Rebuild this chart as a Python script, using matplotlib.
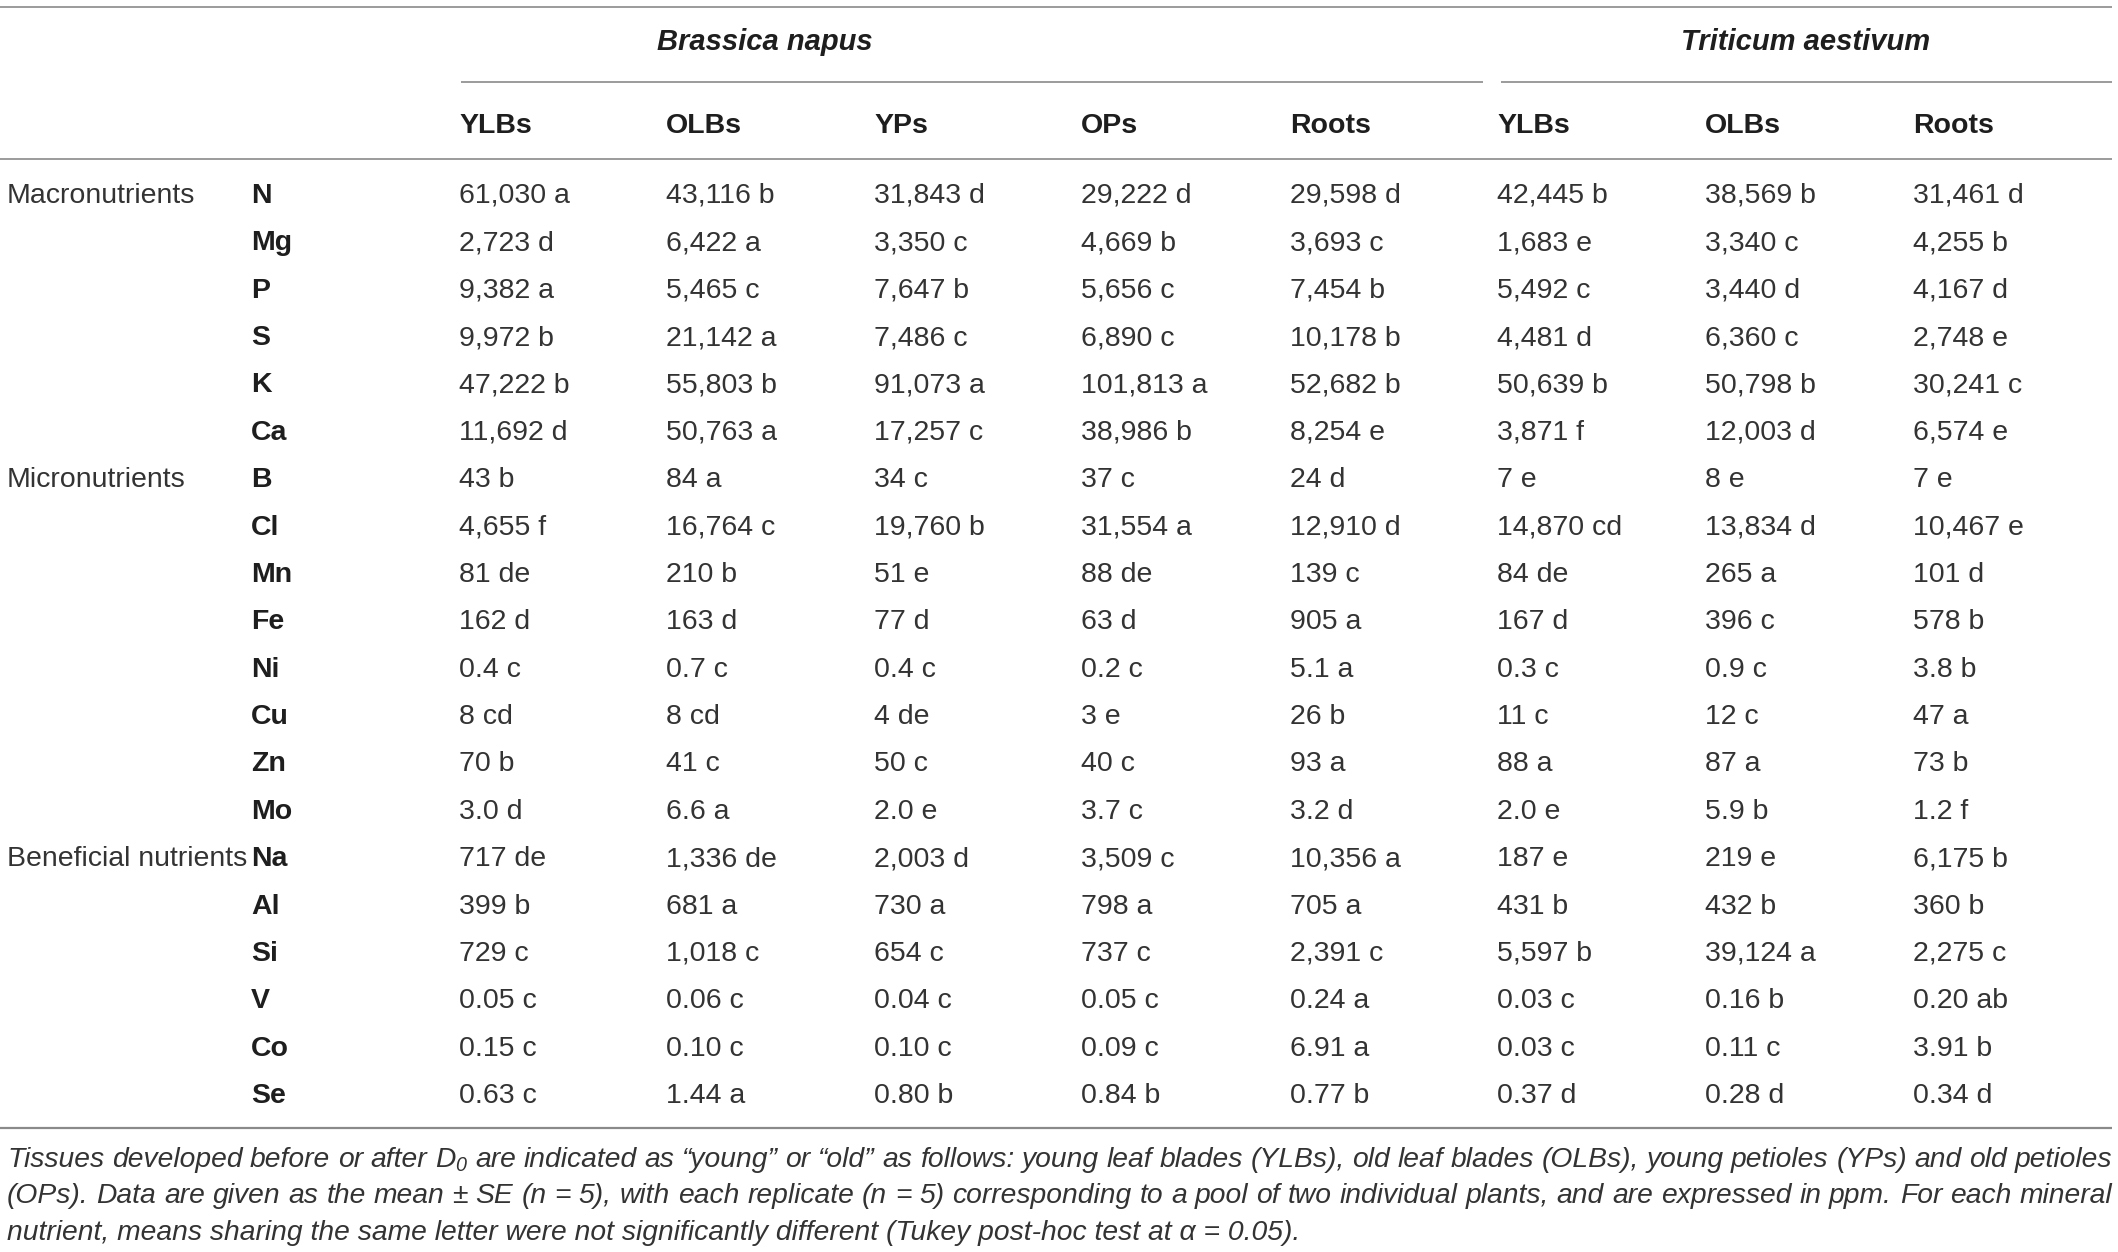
import matplotlib
matplotlib.use("Agg")
import matplotlib.pyplot as plt

# ---------------- data ----------------
species = ["Brassica napus", "Triticum aestivum"]
columns = ["YLBs", "OLBs", "YPs", "OPs", "Roots", "YLBs", "OLBs", "Roots"]
groups = ["Macronutrients", "Micronutrients", "Beneficial nutrients"]
group_start = [0, 6, 14]
elements = ["N", "Mg", "P", "S", "K", "Ca",
            "B", "Cl", "Mn", "Fe", "Ni", "Cu", "Zn", "Mo",
            "Na", "Al", "Si", "V", "Co", "Se"]

bn_ylbs = ["61,030 a", "2,723 d", "9,382 a", "9,972 b", "47,222 b", "11,692 d",
           "43 b", "4,655 f", "81 de", "162 d", "0.4 c", "8 cd", "70 b", "3.0 d",
           "717 de", "399 b", "729 c", "0.05 c", "0.15 c", "0.63 c"]
bn_olbs = ["43,116 b", "6,422 a", "5,465 c", "21,142 a", "55,803 b", "50,763 a",
           "84 a", "16,764 c", "210 b", "163 d", "0.7 c", "8 cd", "41 c", "6.6 a",
           "1,336 de", "681 a", "1,018 c", "0.06 c", "0.10 c", "1.44 a"]
bn_yps = ["31,843 d", "3,350 c", "7,647 b", "7,486 c", "91,073 a", "17,257 c",
          "34 c", "19,760 b", "51 e", "77 d", "0.4 c", "4 de", "50 c", "2.0 e",
          "2,003 d", "730 a", "654 c", "0.04 c", "0.10 c", "0.80 b"]
bn_ops = ["29,222 d", "4,669 b", "5,656 c", "6,890 c", "101,813 a", "38,986 b",
          "37 c", "31,554 a", "88 de", "63 d", "0.2 c", "3 e", "40 c", "3.7 c",
          "3,509 c", "798 a", "737 c", "0.05 c", "0.09 c", "0.84 b"]
bn_roots = ["29,598 d", "3,693 c", "7,454 b", "10,178 b", "52,682 b", "8,254 e",
            "24 d", "12,910 d", "139 c", "905 a", "5.1 a", "26 b", "93 a", "3.2 d",
            "10,356 a", "705 a", "2,391 c", "0.24 a", "6.91 a", "0.77 b"]
ta_ylbs = ["42,445 b", "1,683 e", "5,492 c", "4,481 d", "50,639 b", "3,871 f",
           "7 e", "14,870 cd", "84 de", "167 d", "0.3 c", "11 c", "88 a", "2.0 e",
           "187 e", "431 b", "5,597 b", "0.03 c", "0.03 c", "0.37 d"]
ta_olbs = ["38,569 b", "3,340 c", "3,440 d", "6,360 c", "50,798 b", "12,003 d",
           "8 e", "13,834 d", "265 a", "396 c", "0.9 c", "12 c", "87 a", "5.9 b",
           "219 e", "432 b", "39,124 a", "0.16 b", "0.11 c", "0.28 d"]
ta_roots = ["31,461 d", "4,255 b", "4,167 d", "2,748 e", "30,241 c", "6,574 e",
            "7 e", "10,467 e", "101 d", "578 b", "3.8 b", "47 a", "73 b", "1.2 f",
            "6,175 b", "360 b", "2,275 c", "0.20 ab", "3.91 b", "0.34 d"]
table_cols = [bn_ylbs, bn_olbs, bn_yps, bn_ops, bn_roots, ta_ylbs, ta_olbs, ta_roots]

caption_lines = [
    "Tissues developed before or after $D_0$ are indicated as \u201cyoung\u201d or \u201cold\u201d as follows: young leaf blades (YLBs), old leaf blades (OLBs), young petioles (YPs) and old petioles",
    "(OPs). Data are given as the mean \u00b1 SE (n = 5), with each replicate (n = 5) corresponding to a pool of two individual plants, and are expressed in ppm. For each mineral",
    "nutrient, means sharing the same letter were not significantly different (Tukey post-hoc test at \u03b1 = 0.05).",
]

# ---------------- layout ----------------
W, H = 2118, 1252
plt.rcParams['font.family'] = ['Liberation Sans', 'DejaVu Sans']
plt.rcParams['mathtext.fontset'] = 'custom'
plt.rcParams['mathtext.it'] = 'Liberation Sans:italic'
plt.rcParams['mathtext.rm'] = 'Liberation Sans:italic'

fig = plt.figure(figsize=(W / 100, H / 100), dpi=100)
ax = fig.add_axes([0, 0, 1, 1])
ax.set_xlim(0, W)
ax.set_ylim(H, 0)
ax.axis('off')

FS = 20.5
FS_SP = 21
TXT = '#333333'
BLK = '#1e1e1e'
LINE = '#8a8a8a'

col_x = [459, 666, 874, 1081, 1290, 1497, 1705, 1913]
group_x = 7
elem_x = 251
row_y0 = 193
row_dy = 47.37
off = 10  # center -> baseline

# rules
ax.plot([0, 2112], [7, 7], color=LINE, lw=1.2, solid_capstyle='butt')
ax.plot([461, 1483], [82, 82], color=LINE, lw=1.2, solid_capstyle='butt')
ax.plot([1501, 2112], [82, 82], color=LINE, lw=1.2, solid_capstyle='butt')
ax.plot([0, 2112], [159, 159], color=LINE, lw=1.2, solid_capstyle='butt')
ax.plot([0, 2112], [1128, 1128], color=LINE, lw=1.6, solid_capstyle='butt')

# species headers
sp_center = [765, 1806]
for name, cx in zip(species, sp_center):
    ax.text(cx, 40 + off, name, ha='center', va='baseline', fontsize=FS_SP,
            fontweight='bold', fontstyle='italic', color=BLK)

# column headers
for c, x in zip(columns, col_x):
    ax.text(x, 123 + off, c, ha='left', va='baseline', fontsize=FS,
            fontweight='bold', color=BLK)

# rows
for i, el in enumerate(elements):
    y = row_y0 + i * row_dy + off
    ax.text(elem_x, y, el, ha='left', va='baseline', fontsize=FS,
            fontweight='bold', color=BLK)
    for x, col in zip(col_x, table_cols):
        ax.text(x, y, col[i], ha='left', va='baseline', fontsize=FS, color=TXT)

for g, s in zip(groups, group_start):
    ax.text(group_x, row_y0 + s * row_dy + off, g, ha='left', va='baseline',
            fontsize=FS, color=TXT)

# caption (justified for the first two lines)
cap_fs = 20.3
cap_y = [1158, 1194, 1231]
x_left, x_right = 7, 2112
fig.canvas.draw()
renderer = fig.canvas.get_renderer()
inv = ax.transData.inverted()


def width_of(t):
    bb = t.get_window_extent(renderer=renderer)
    (x0, _), (x1, _) = inv.transform([[bb.x0, bb.y0], [bb.x1, bb.y0]])
    return x1 - x0


for li, (line, y) in enumerate(zip(caption_lines, cap_y)):
    if li < 2:
        words = line.split(' ')
        tmp = [ax.text(0, y + 9, w, fontsize=cap_fs, fontstyle='italic',
                       color=TXT, va='baseline') for w in words]
        widths = [width_of(t) for t in tmp]
        for t in tmp:
            t.remove()
        gap = (x_right - x_left - sum(widths)) / (len(words) - 1)
        x = x_left
        for w, wd in zip(words, widths):
            ax.text(x, y + 9, w, fontsize=cap_fs, fontstyle='italic',
                    color=TXT, va='baseline', ha='left')
            x += wd + gap
    else:
        ax.text(x_left, y + 9, line, fontsize=cap_fs, fontstyle='italic',
                color=TXT, va='baseline', ha='left')

fig.savefig('out.png', dpi=100, facecolor='white')
